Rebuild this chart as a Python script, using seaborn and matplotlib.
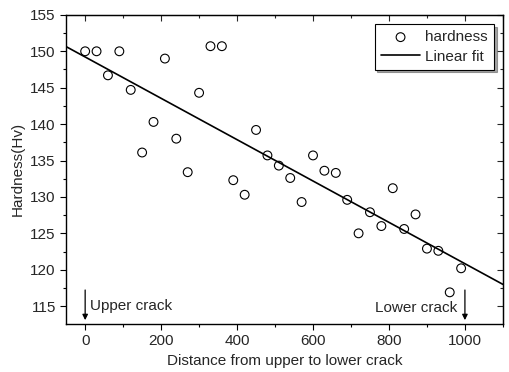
import numpy as np
import pandas as pd
import matplotlib
matplotlib.use("Agg")
import matplotlib.pyplot as plt
from matplotlib.ticker import MultipleLocator, NullFormatter
import seaborn as sns

# ─── DATA ────────────────────────────────────────────────────
distance = [0, 30, 60, 90, 120, 150, 180, 210, 240, 270, 300, 330,
            360, 390, 420, 450, 480, 510, 540, 570, 600, 630, 660,
            690, 720, 750, 780, 810, 840, 870, 900, 930, 960, 990]
hardness = [150.0, 150.0, 146.7, 150.0, 144.7, 136.1, 140.3, 149.0,
            138.0, 133.4, 144.3, 150.7, 150.7, 132.3, 130.3, 139.2,
            135.7, 134.3, 132.6, 129.3, 135.7, 133.6, 133.3, 129.6,
            125.0, 127.9, 126.0, 131.2, 125.6, 127.6, 122.9, 122.6,
            116.9, 120.2]

crack_x = [0, 1000]
crack_labels = ["Upper crack", "Lower crack"]

df = pd.DataFrame({"Distance": distance, "Hardness": hardness})

# ─── STYLE ────────────────────────────────────────────────────
sns.set_style("ticks")
plt.rcParams['font.family'] = ['Liberation Sans', 'DejaVu Sans']
plt.rcParams['font.size'] = 11

fig, ax = plt.subplots(figsize=(5.09, 3.72), dpi=100)
fig.subplots_adjust(left=0.13, right=0.988, top=0.96, bottom=0.13)

ax.set_xlim(-50, 1100)
ax.set_ylim(112.6, 155)

# points
sns.scatterplot(data=df, x="Distance", y="Hardness", ax=ax,
                marker="o", s=40, facecolor="none", edgecolor="black",
                linewidth=0.8, label="hardness", zorder=3)

# linear fit across the whole axis
sns.regplot(data=df, x="Distance", y="Hardness", ax=ax, scatter=False,
            ci=None, truncate=False, color="black", label="Linear fit",
            line_kws={"lw": 1.2})

ax.set_xlim(-50, 1100)
ax.set_ylim(112.6, 155)

# crack markers
for cx in crack_x:
    ax.annotate("", xy=(cx, 112.7), xytext=(cx, 117.6),
                arrowprops=dict(arrowstyle="-|>", color="black", lw=0.9,
                                mutation_scale=8))
ax.text(crack_x[0] + 14, 115.0, crack_labels[0], va="center", ha="left")
ax.text(crack_x[1] - 20, 114.8, crack_labels[1], va="center", ha="right")

ax.set_xlabel("Distance from upper to lower crack")
ax.set_ylabel("Hardness(Hv)")

# ticks: out on left/bottom, in on top/right
ax.xaxis.set_major_locator(MultipleLocator(200))
ax.xaxis.set_minor_locator(MultipleLocator(100))
ax.yaxis.set_major_locator(MultipleLocator(5))
ax.yaxis.set_minor_locator(MultipleLocator(2.5))
ax.tick_params(which="both", direction="out", color="black", width=0.8)
ax.tick_params(which="major", length=4)
ax.tick_params(which="minor", length=2.5)

top = ax.secondary_xaxis("top")
top.xaxis.set_major_locator(MultipleLocator(200))
top.xaxis.set_minor_locator(MultipleLocator(100))
top.xaxis.set_major_formatter(NullFormatter())
top.tick_params(which="both", direction="in", width=0.8)
top.tick_params(which="major", length=4)
top.tick_params(which="minor", length=2.5)

right = ax.secondary_yaxis("right")
right.yaxis.set_major_locator(MultipleLocator(5))
right.yaxis.set_minor_locator(MultipleLocator(2.5))
right.yaxis.set_major_formatter(NullFormatter())
right.tick_params(which="both", direction="in", width=0.8)
right.tick_params(which="major", length=4)
right.tick_params(which="minor", length=2.5)

for side in ["top", "right", "left", "bottom"]:
    ax.spines[side].set_visible(True)
    ax.spines[side].set_color("black")
    ax.spines[side].set_linewidth(1.0)

leg = ax.legend(loc="upper right", frameon=True, fancybox=False,
                shadow=True, edgecolor="black", framealpha=1,
                handlelength=2.6, handletextpad=0.3, borderpad=0.4,
                labelspacing=0.35, borderaxespad=0.6)
leg.get_frame().set_linewidth(0.8)

plt.savefig("out.png", dpi=100)
